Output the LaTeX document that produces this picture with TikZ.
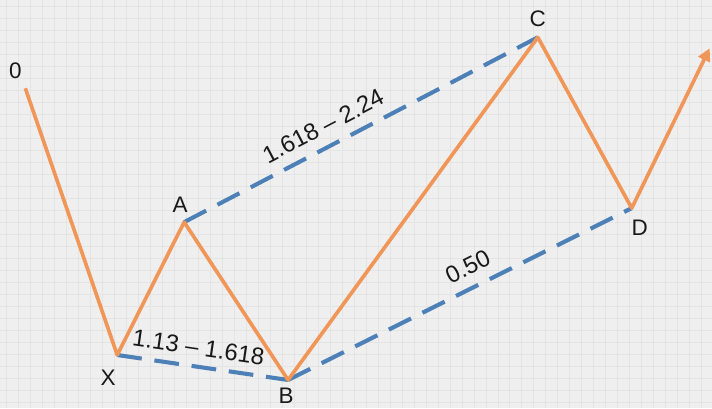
\documentclass[tikz,border=0pt]{standalone}
\usepackage{fontspec}
\setmainfont{Liberation Sans}
\usepackage{xcolor}
\definecolor{bgpaper}{RGB}{239,239,239}
\definecolor{bggrid}{RGB}{228,228,228}
\definecolor{waveorange}{RGB}{240,150,88}
\definecolor{fibblue}{RGB}{78,128,184}
\definecolor{labelink}{RGB}{25,25,25}
\usetikzlibrary{arrows.meta, positioning}

\begin{document}
\begin{tikzpicture}[
  x=0.025cm, y=0.025cm,
  gridline/.style={draw=bggrid, line width=0.5pt},
  wave/.style={draw=waveorange, line width=2.6pt, line join=round,
               -{Triangle[length=9pt, width=9pt]}},
  fib/.style={draw=fibblue, line width=2.9pt,
              dash pattern=on 0.62cm off 0.32cm},
  ptlabel/.style={font=\fontsize{16}{18}\selectfont, text=labelink, inner sep=0pt},
  ratio/.style={font=\fontsize{17}{20}\selectfont, text=labelink, sloped}
]
% paper with grid
\fill[bgpaper] (0,0) rectangle (712,408);
\foreach \gx in {6,18,...,712} \draw[gridline] (\gx,0) -- (\gx,408);
\foreach \gy in {6,18,...,408} \draw[gridline] (0,\gy) -- (712,\gy);
\useasboundingbox (0,0) rectangle (712,408);

% turning points
\coordinate (p0) at (25,320);
\coordinate (pX) at (117,53);
\coordinate (pA) at (184,186);
\coordinate (pB) at (288,28);
\coordinate (pC) at (538,371);
\coordinate (pD) at (632,200);
\coordinate (pE) at (710,360);

% ratio legs
\draw[fib] (pA) -- node[ratio, above=4pt, pos=0.42] {1.618 – 2.24} (pC);
\draw[fib] (pX) -- node[ratio, above=3pt, pos=0.46] {1.13 – 1.618} (pB);
\draw[fib] (pB) -- node[ratio, above=4pt, pos=0.55] {0.50} (pD);

% price swing
\draw[wave] (p0) -- (pX) -- (pA) -- (pB) -- (pC) -- (pD) -- (pE);

% point names
\node[ptlabel] (l0) at (15,338) {0};
\node[ptlabel] (lX) at (108,30) {X};
\node[ptlabel] (lA) at (180,203) {A};
\node[ptlabel] (lB) at (286,12) {B};
\node[ptlabel] (lC) at (538,390) {C};
\node[ptlabel] (lD) at (640,180) {D};
\end{tikzpicture}
\end{document}
